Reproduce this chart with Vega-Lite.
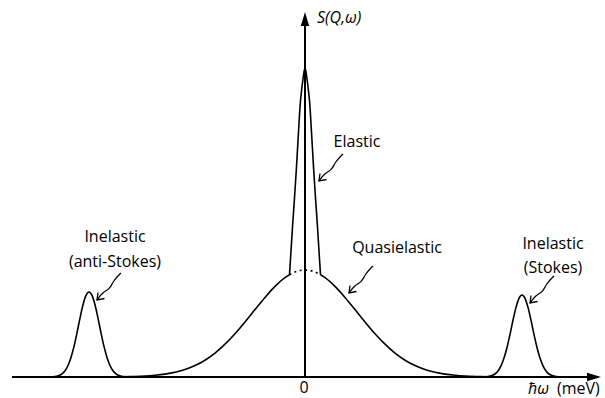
{
  "$schema": "https://vega.github.io/schema/vega-lite/v6.json",
  "width": 605,
  "height": 398,
  "autosize": {"type": "fit", "contains": "padding"},
  "padding": 0,
  "background": "white",
  "config": {"view": {"stroke": null}},
  "datasets": {
    "quasi": [
      {"seg": "L", "x": -210, "y": 0}, {"seg": "L", "x": -190, "y": 0.1}, {"seg": "L", "x": -175, "y": 0.4},
      {"seg": "L", "x": -160, "y": 0.9}, {"seg": "L", "x": -150, "y": 1.7}, {"seg": "L", "x": -140, "y": 2.9},
      {"seg": "L", "x": -130, "y": 4.7}, {"seg": "L", "x": -120, "y": 7.5}, {"seg": "L", "x": -110, "y": 11.4},
      {"seg": "L", "x": -100, "y": 16.8}, {"seg": "L", "x": -90, "y": 23.9}, {"seg": "L", "x": -80, "y": 32.8},
      {"seg": "L", "x": -70, "y": 43.2}, {"seg": "L", "x": -60, "y": 55.0}, {"seg": "L", "x": -50, "y": 67.4},
      {"seg": "L", "x": -40, "y": 79.6}, {"seg": "L", "x": -30, "y": 90.6}, {"seg": "L", "x": -20, "y": 99.4},
      {"seg": "L", "x": -15.5, "y": 102.3},
      {"seg": "R", "x": 15.5, "y": 102.3}, {"seg": "R", "x": 20, "y": 99.4}, {"seg": "R", "x": 30, "y": 90.6},
      {"seg": "R", "x": 40, "y": 79.6}, {"seg": "R", "x": 50, "y": 67.4}, {"seg": "R", "x": 60, "y": 55.0},
      {"seg": "R", "x": 70, "y": 43.2}, {"seg": "R", "x": 80, "y": 32.8}, {"seg": "R", "x": 90, "y": 23.9},
      {"seg": "R", "x": 100, "y": 16.8}, {"seg": "R", "x": 110, "y": 11.4}, {"seg": "R", "x": 120, "y": 7.5},
      {"seg": "R", "x": 130, "y": 4.7}, {"seg": "R", "x": 140, "y": 2.9}, {"seg": "R", "x": 150, "y": 1.7},
      {"seg": "R", "x": 160, "y": 0.9}, {"seg": "R", "x": 175, "y": 0.4}, {"seg": "R", "x": 190, "y": 0.1},
      {"seg": "R", "x": 210, "y": 0}
    ],
    "quasiHidden": [
      {"x": -15.5, "y": 102.3}, {"x": -10, "y": 105.0}, {"x": -5, "y": 106.5}, {"x": 0, "y": 107},
      {"x": 5, "y": 106.5}, {"x": 10, "y": 105.0}, {"x": 15.5, "y": 102.3}
    ],
    "elastic": [
      {"x": -15.5, "y": 102.3}, {"x": -14, "y": 126}, {"x": -12.5, "y": 150}, {"x": -10.5, "y": 179},
      {"x": -8.7, "y": 207}, {"x": -6.5, "y": 245}, {"x": -4.7, "y": 274}, {"x": -3.5, "y": 286},
      {"x": -2, "y": 298}, {"x": -1, "y": 305}, {"x": 0, "y": 309}, {"x": 1, "y": 305}, {"x": 2, "y": 298},
      {"x": 3.5, "y": 286}, {"x": 4.7, "y": 274}, {"x": 6.5, "y": 245}, {"x": 8.7, "y": 207},
      {"x": 10.5, "y": 179}, {"x": 12.5, "y": 150}, {"x": 14, "y": 126}, {"x": 15.5, "y": 102.3}
    ],
    "inelastic": [
      {"peak": "anti", "x": -256, "y": 0}, {"peak": "anti", "x": -250, "y": 0.45}, {"peak": "anti", "x": -246, "y": 1.4},
      {"peak": "anti", "x": -243, "y": 3.1}, {"peak": "anti", "x": -240, "y": 6.2}, {"peak": "anti", "x": -237, "y": 11.5},
      {"peak": "anti", "x": -234, "y": 19.6}, {"peak": "anti", "x": -231, "y": 30.6}, {"peak": "anti", "x": -228, "y": 44.2},
      {"peak": "anti", "x": -225, "y": 58.9}, {"peak": "anti", "x": -222, "y": 72.2}, {"peak": "anti", "x": -219, "y": 81.6},
      {"peak": "anti", "x": -216, "y": 85}, {"peak": "anti", "x": -213, "y": 81.6}, {"peak": "anti", "x": -210, "y": 72.2},
      {"peak": "anti", "x": -207, "y": 58.9}, {"peak": "anti", "x": -204, "y": 44.2}, {"peak": "anti", "x": -201, "y": 30.6},
      {"peak": "anti", "x": -198, "y": 19.6}, {"peak": "anti", "x": -195, "y": 11.5}, {"peak": "anti", "x": -192, "y": 6.2},
      {"peak": "anti", "x": -189, "y": 3.1}, {"peak": "anti", "x": -186, "y": 1.4}, {"peak": "anti", "x": -182, "y": 0.45},
      {"peak": "anti", "x": -176, "y": 0},
      {"peak": "stokes", "x": 177, "y": 0}, {"peak": "stokes", "x": 183, "y": 0.4}, {"peak": "stokes", "x": 187, "y": 1.4},
      {"peak": "stokes", "x": 190, "y": 3.0}, {"peak": "stokes", "x": 193, "y": 6.0}, {"peak": "stokes", "x": 196, "y": 11.1},
      {"peak": "stokes", "x": 199, "y": 18.9}, {"peak": "stokes", "x": 202, "y": 29.5}, {"peak": "stokes", "x": 205, "y": 42.6},
      {"peak": "stokes", "x": 208, "y": 56.8}, {"peak": "stokes", "x": 211, "y": 69.6}, {"peak": "stokes", "x": 214, "y": 78.7},
      {"peak": "stokes", "x": 217, "y": 82}, {"peak": "stokes", "x": 220, "y": 78.7}, {"peak": "stokes", "x": 223, "y": 69.6},
      {"peak": "stokes", "x": 226, "y": 56.8}, {"peak": "stokes", "x": 229, "y": 42.6}, {"peak": "stokes", "x": 232, "y": 29.5},
      {"peak": "stokes", "x": 235, "y": 18.9}, {"peak": "stokes", "x": 238, "y": 11.1}, {"peak": "stokes", "x": 241, "y": 6.0},
      {"peak": "stokes", "x": 244, "y": 3.0}, {"peak": "stokes", "x": 247, "y": 1.4}, {"peak": "stokes", "x": 251, "y": 0.4},
      {"peak": "stokes", "x": 257, "y": 0}
    ],
    "arrows": [
      {"a": "el", "i": 0, "x": 38, "y": 223}, {"a": "el", "i": 1, "x": 30, "y": 215}, {"a": "el", "i": 2, "x": 27, "y": 207},
      {"a": "el", "i": 3, "x": 20, "y": 204}, {"a": "el", "i": 4, "x": 14, "y": 196},
      {"a": "qe", "i": 0, "x": 68, "y": 111}, {"a": "qe", "i": 1, "x": 60, "y": 103}, {"a": "qe", "i": 2, "x": 57, "y": 95},
      {"a": "qe", "i": 3, "x": 50, "y": 92}, {"a": "qe", "i": 4, "x": 44, "y": 84},
      {"a": "as", "i": 0, "x": -184, "y": 104}, {"a": "as", "i": 1, "x": -192, "y": 96}, {"a": "as", "i": 2, "x": -195, "y": 88},
      {"a": "as", "i": 3, "x": -202, "y": 85}, {"a": "as", "i": 4, "x": -208, "y": 77},
      {"a": "st", "i": 0, "x": 249, "y": 101}, {"a": "st", "i": 1, "x": 241, "y": 93}, {"a": "st", "i": 2, "x": 238, "y": 85},
      {"a": "st", "i": 3, "x": 231, "y": 82}, {"a": "st", "i": 4, "x": 225, "y": 74}
    ],
    "heads": [
      {"a": "el", "i": 0, "x": 15, "y": 203.5}, {"a": "el", "i": 1, "x": 14, "y": 196}, {"a": "el", "i": 2, "x": 21.5, "y": 197.5},
      {"a": "qe", "i": 0, "x": 45, "y": 91.5}, {"a": "qe", "i": 1, "x": 44, "y": 84}, {"a": "qe", "i": 2, "x": 51.5, "y": 85.5},
      {"a": "as", "i": 0, "x": -207, "y": 84.5}, {"a": "as", "i": 1, "x": -208, "y": 77}, {"a": "as", "i": 2, "x": -200.5, "y": 78.5},
      {"a": "st", "i": 0, "x": 226, "y": 81.5}, {"a": "st", "i": 1, "x": 225, "y": 74}, {"a": "st", "i": 2, "x": 232.5, "y": 75.5}
    ],
    "axes": [
      {"x": -293, "x2": 285, "y": 0, "y2": 0},
      {"x": 0, "x2": 0, "y": 0, "y2": 352}
    ],
    "axisHeads": [
      {"dir": "right", "x": 289, "y": 0},
      {"dir": "up", "x": 0, "y": 358}
    ],
    "labels": [
      {"text": "Elastic", "x": 52, "y": 235},
      {"text": "Quasielastic", "x": 92, "y": 129},
      {"text": "Inelastic", "x": -190, "y": 140},
      {"text": "(anti-Stokes)", "x": -190, "y": 115},
      {"text": "Inelastic", "x": 248, "y": 133},
      {"text": "(Stokes)", "x": 248, "y": 109},
      {"text": "0", "x": -1, "y": -11}
    ],
    "italic": [
      {"text": "S(Q,ω)", "x": 12, "y": 359},
      {"text": "ħω", "x": 223, "y": -12}
    ],
    "unit": [
      {"text": "(meV)", "x": 252, "y": -12}
    ]
  },
  "encoding": {
    "x": {"field": "x", "type": "quantitative", "scale": {"domain": [-305, 300], "nice": false, "zero": false}, "axis": null},
    "y": {"field": "y", "type": "quantitative", "scale": {"domain": [-21, 377], "nice": false, "zero": false}, "axis": null}
  },
  "layer": [
    {
      "data": {"name": "quasi"},
      "mark": {"type": "line", "color": "black", "strokeWidth": 1.6, "interpolate": "monotone"},
      "encoding": {"detail": {"field": "seg"}}
    },
    {
      "data": {"name": "quasiHidden"},
      "mark": {"type": "line", "color": "black", "strokeWidth": 1.6, "strokeDash": [2, 3.5], "interpolate": "monotone"}
    },
    {
      "data": {"name": "elastic"},
      "mark": {"type": "line", "color": "black", "strokeWidth": 1.6, "interpolate": "monotone"}
    },
    {
      "data": {"name": "inelastic"},
      "mark": {"type": "line", "color": "black", "strokeWidth": 1.6, "interpolate": "monotone"},
      "encoding": {"detail": {"field": "peak"}}
    },
    {
      "data": {"name": "arrows"},
      "mark": {"type": "line", "color": "black", "strokeWidth": 1.3, "interpolate": "basis"},
      "encoding": {"detail": {"field": "a"}, "order": {"field": "i"}}
    },
    {
      "data": {"name": "heads"},
      "mark": {"type": "line", "color": "black", "strokeWidth": 1.3, "strokeJoin": "miter"},
      "encoding": {"detail": {"field": "a"}, "order": {"field": "i"}}
    },
    {
      "data": {"name": "axes"},
      "mark": {"type": "rule", "color": "black", "strokeWidth": 2},
      "encoding": {
        "x2": {"field": "x2"},
        "y2": {"field": "y2"}
      }
    },
    {
      "data": {"name": "axisHeads"},
      "transform": [{"filter": "datum.dir == 'right'"}],
      "mark": {"type": "point", "filled": true, "color": "black", "opacity": 1, "size": 196, "shape": "M1,0L-1,-0.6L-1,0.6Z"}
    },
    {
      "data": {"name": "axisHeads"},
      "transform": [{"filter": "datum.dir == 'up'"}],
      "mark": {"type": "point", "filled": true, "color": "black", "opacity": 1, "size": 196, "shape": "M0,-1L-0.6,1L0.6,1Z"}
    },
    {
      "data": {"name": "labels"},
      "mark": {"type": "text", "font": "Open Sans", "fontSize": 16, "color": "black", "align": "center", "baseline": "middle"},
      "encoding": {"text": {"field": "text"}}
    },
    {
      "data": {"name": "italic"},
      "mark": {"type": "text", "font": "Open Sans", "fontSize": 16, "fontStyle": "italic", "color": "black", "align": "left", "baseline": "middle"},
      "encoding": {"text": {"field": "text"}}
    },
    {
      "data": {"name": "unit"},
      "mark": {"type": "text", "font": "Open Sans", "fontSize": 16, "color": "black", "align": "left", "baseline": "middle"},
      "encoding": {"text": {"field": "text"}}
    }
  ]
}
